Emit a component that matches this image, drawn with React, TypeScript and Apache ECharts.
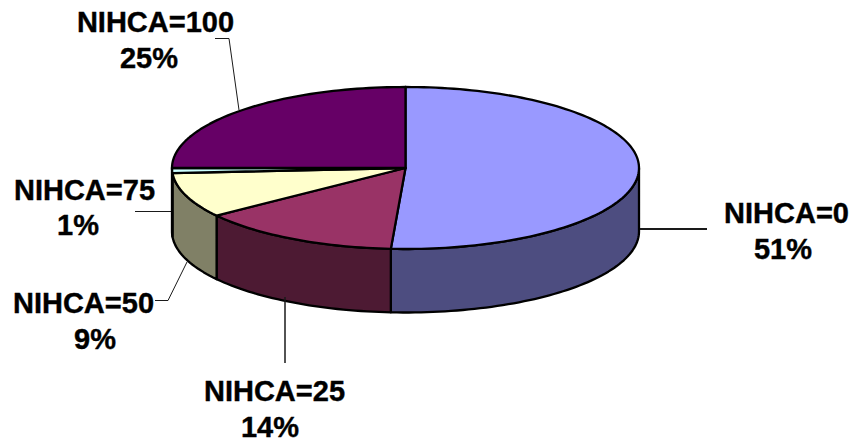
import React, { useEffect, useRef } from "react";
import * as echarts from "echarts";

const categories = ["NIHCA=0", "NIHCA=25", "NIHCA=50", "NIHCA=75", "NIHCA=100"];
const shares = [51, 14, 9, 1, 25];
const topColors = ["#9999FF", "#993366", "#FFFFCC", "#CCFFFF", "#660066"];
const wallColors = ["#4D4D80", "#4D1A33", "#808066", "#668080", "#330033"];

// Centres of each label's name line and percentage line.
const nameAnchors = [
  [786.5, 213],
  [274.5, 391],
  [83.5, 303],
  [84.5, 190],
  [155.5, 22],
];
const percentAnchors = [
  [783, 249],
  [270, 427],
  [95, 339],
  [78, 225],
  [149, 58],
];
// Leader polylines, with their stroke widths.
const leaders = [
  { points: [[640, 229], [707, 229]], width: 2 },
  { points: [[285, 297], [285, 363]], width: 1.5 },
  { points: [[155, 300.5], [168, 300.5], [187, 262]], width: 1 },
  { points: [[135, 211.5], [171, 211.5]], width: 1 },
  { points: [[215, 38.5], [229, 38.5], [239, 110]], width: 1 },
];

const CX = 405.5;
const CY = 168;
const RX = 233.5;
const RY = 81;
const DEPTH = 63.5;

const total = shares.reduce((a, b) => a + b, 0);
const starts = shares.map((_, i) =>
  shares.slice(0, i).reduce((a, b) => a + b, 0)
);

// Clockwise angle from twelve o'clock, projected on the tilted disc.
const rim = (deg: number, drop = 0) => {
  const r = (deg * Math.PI) / 180;
  return [CX + RX * Math.sin(r), CY - RY * Math.cos(r) + drop];
};

const arc = (from: number, to: number, drop = 0) => {
  const out: number[][] = [];
  const steps = Math.max(2, Math.ceil((to - from) / 1.5));
  for (let k = 0; k <= steps; k++) out.push(rim(from + ((to - from) * k) / steps, drop));
  return out;
};

const edge = { stroke: "#000", lineWidth: 2.3, lineJoin: "round" };

const labelText = (text: string, at: number[]) => ({
  type: "text",
  x: at[0],
  y: at[1],
  style: {
    text,
    fill: "#000",
    stroke: "#000",
    lineWidth: 0.4,
    font: 'bold 29px "Liberation Sans", Arial, sans-serif',
    align: "center",
    verticalAlign: "middle",
  },
});

const renderSlice = (params: any, api: any) => {
  const i = params.dataIndex;
  const a0 = (starts[i] / total) * 360;
  const a1 = a0 + (api.value(0) / total) * 360;
  const children: any[] = [];

  // The wall is only visible on the front half of the disc.
  const w0 = Math.max(a0, 90);
  const w1 = Math.min(a1, 270);
  if (w1 > w0) {
    children.push({
      type: "polygon",
      shape: { points: [...arc(w0, w1), ...arc(w0, w1, DEPTH).reverse()] },
      style: { fill: wallColors[i], ...edge },
    });
  }

  children.push({
    type: "polygon",
    shape: { points: [[CX, CY], ...arc(a0, a1)] },
    style: { fill: topColors[i], ...edge },
  });

  children.push({
    type: "polyline",
    shape: { points: leaders[i].points },
    style: { fill: "none", stroke: "#1a1a1a", lineWidth: leaders[i].width },
  });

  children.push(labelText(categories[i], nameAnchors[i]));
  children.push(labelText(`${api.value(0)}%`, percentAnchors[i]));

  return { type: "group", children };
};

export default function App() {
  const ref = useRef<HTMLDivElement>(null);

  useEffect(() => {
    const chart = echarts.init(ref.current, null, { renderer: "svg" });
    chart.setOption({
      animation: false,
      backgroundColor: "#fff",
      series: [
        {
          type: "custom",
          coordinateSystem: "none",
          renderItem: renderSlice,
          data: shares.map((v) => [v]),
        },
      ],
    });
    return () => chart.dispose();
  }, []);

  return (
    <div
      ref={ref}
      style={{ position: "fixed", left: 0, top: 0, width: 856, height: 443 }}
    />
  );
}
